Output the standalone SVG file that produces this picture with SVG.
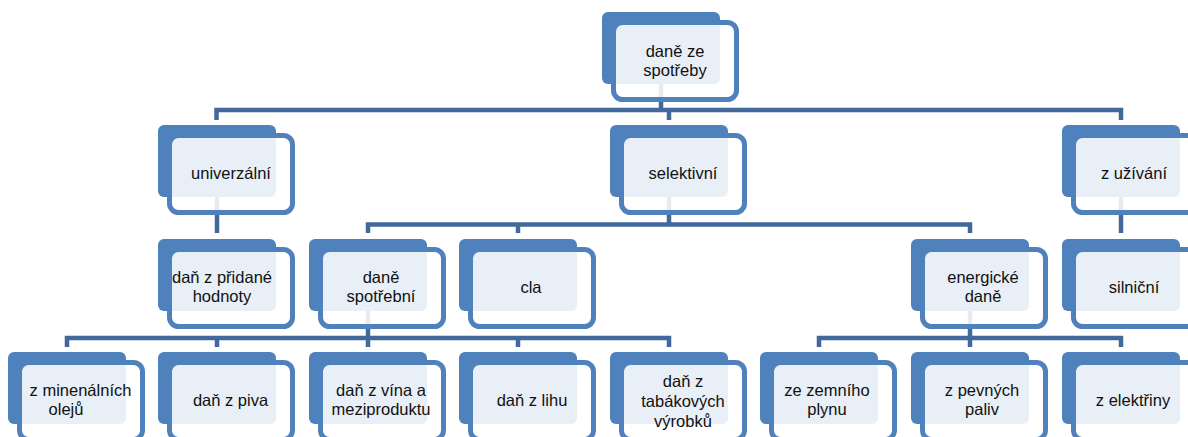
<svg xmlns="http://www.w3.org/2000/svg" width="1188" height="437" viewBox="0 0 1188 437">
<defs>
<style>
.bk{fill:#4F81BD;}
.fr{fill:#FFFFFF;fill-opacity:0.87;stroke:#4F81BD;stroke-width:5;}
.cn{fill:none;stroke:#41699C;stroke-width:4.5;stroke-linejoin:miter;stroke-linecap:butt;}
text{font-family:"Liberation Sans",Arial,sans-serif;font-size:16.5px;fill:#111;text-anchor:middle;}
</style>
</defs>
<rect width="1188" height="437" fill="#FFFFFF"/>
<g id="connectors">
<path class="cn" d="M661 83 V110 M216.5 120 V110 H1121 V120 M669 110 V120"/>
<path class="cn" d="M217 197 V233"/>
<path class="cn" d="M669 197 V224.5 M368 233 V224.5 H970 V233 M518 224.5 V233"/>
<path class="cn" d="M1121 197 V233"/>
<path class="cn" d="M368 311 V338 M67 347 V338 H669 V347 M217 338 V347 M368 338 V347 M518 338 V347"/>
<path class="cn" d="M970 311 V338 M819 347 V338 H1121 V347 M970 338 V347"/>
</g>
<g id="n-dane-ze-spotreby">
<rect class="bk" x="602" y="12" width="118" height="72" rx="6"/>
<rect class="fr" x="613.5" y="22.5" width="123" height="77" rx="9"/>
<text x="675" y="57">daně ze</text><text x="675" y="76">spotřeby</text>
</g>
<g id="n-univerzalni">
<rect class="bk" x="158" y="125" width="118" height="72" rx="6"/>
<rect class="fr" x="169.5" y="135.5" width="123" height="77" rx="9"/>
<text x="231" y="178.5">univerzální</text>
</g>
<g id="n-selektivni">
<rect class="bk" x="610" y="125" width="118" height="72" rx="6"/>
<rect class="fr" x="621.5" y="135.5" width="123" height="77" rx="9"/>
<text x="683" y="178.5">selektivní</text>
</g>
<g id="n-z-uzivani">
<rect class="bk" x="1062" y="125" width="118" height="72" rx="6"/>
<rect class="fr" x="1073.5" y="135.5" width="123" height="77" rx="9"/>
<text x="1134" y="178.5">z užívání</text>
</g>
<g id="n-dph">
<rect class="bk" x="158" y="239" width="118" height="72" rx="6"/>
<rect class="fr" x="169.5" y="249.5" width="123" height="77" rx="9"/>
<text x="222" y="283">daň z přidané</text><text x="222" y="302">hodnoty</text>
</g>
<g id="n-dane-spotrebni">
<rect class="bk" x="309" y="239" width="118" height="72" rx="6"/>
<rect class="fr" x="320.5" y="249.5" width="123" height="77" rx="9"/>
<text x="381" y="283">daně</text><text x="381" y="302">spotřební</text>
</g>
<g id="n-cla">
<rect class="bk" x="459" y="239" width="118" height="72" rx="6"/>
<rect class="fr" x="470.5" y="249.5" width="123" height="77" rx="9"/>
<text x="531" y="292.5">cla</text>
</g>
<g id="n-energicke-dane">
<rect class="bk" x="911" y="239" width="118" height="72" rx="6"/>
<rect class="fr" x="922.5" y="249.5" width="123" height="77" rx="9"/>
<text x="983" y="283">energické</text><text x="983" y="302">daně</text>
</g>
<g id="n-silnicni">
<rect class="bk" x="1062" y="239" width="118" height="72" rx="6"/>
<rect class="fr" x="1073.5" y="249.5" width="123" height="77" rx="9"/>
<text x="1134" y="292.5">silniční</text>
</g>
<g id="n-mineralni-oleje">
<rect class="bk" x="8" y="352" width="118" height="72" rx="6"/>
<rect class="fr" x="19.5" y="362.5" width="123" height="77" rx="9"/>
<text x="80.5" y="396">z minenálních</text><text x="66" y="415">olejů</text>
</g>
<g id="n-pivo">
<rect class="bk" x="158" y="352" width="118" height="72" rx="6"/>
<rect class="fr" x="169.5" y="362.5" width="123" height="77" rx="9"/>
<text x="230.5" y="406">daň z piva</text>
</g>
<g id="n-vino">
<rect class="bk" x="309" y="352" width="118" height="72" rx="6"/>
<rect class="fr" x="320.5" y="362.5" width="123" height="77" rx="9"/>
<text x="381" y="396">daň z vína a</text><text x="381" y="415">meziproduktu</text>
</g>
<g id="n-lih">
<rect class="bk" x="459" y="352" width="118" height="72" rx="6"/>
<rect class="fr" x="470.5" y="362.5" width="123" height="77" rx="9"/>
<text x="532" y="406">daň z lihu</text>
</g>
<g id="n-tabak">
<rect class="bk" x="610" y="352" width="118" height="72" rx="6"/>
<rect class="fr" x="621.5" y="362.5" width="123" height="77" rx="9"/>
<text x="683" y="387">daň z</text><text x="683" y="407">tabákových</text><text x="683" y="427">výrobků</text>
</g>
<g id="n-zemni-plyn">
<rect class="bk" x="760" y="352" width="118" height="72" rx="6"/>
<rect class="fr" x="771.5" y="362.5" width="123" height="77" rx="9"/>
<text x="827" y="396">ze zemního</text><text x="827" y="415">plynu</text>
</g>
<g id="n-pevna-paliva">
<rect class="bk" x="911" y="352" width="118" height="72" rx="6"/>
<rect class="fr" x="922.5" y="362.5" width="123" height="77" rx="9"/>
<text x="982" y="396">z pevných</text><text x="982" y="415">paliv</text>
</g>
<g id="n-elektrina">
<rect class="bk" x="1062" y="352" width="118" height="72" rx="6"/>
<rect class="fr" x="1073.5" y="362.5" width="123" height="77" rx="9"/>
<text x="1133" y="406">z elektřiny</text>
</g>
</svg>
